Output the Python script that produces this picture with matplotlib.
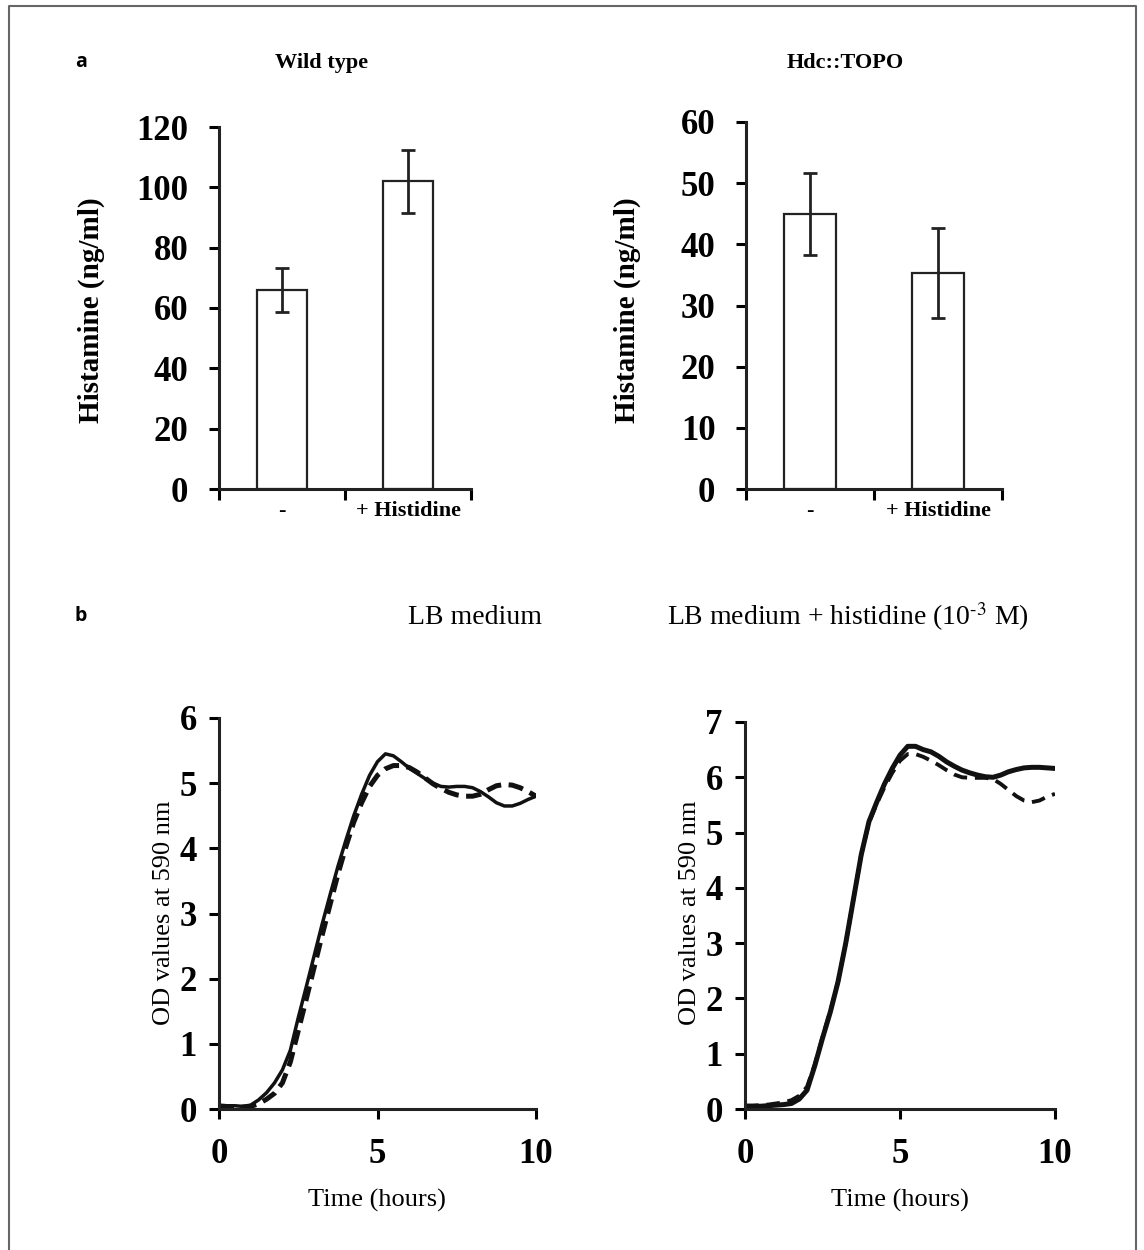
import numpy as np
import matplotlib
matplotlib.use("Agg")
import matplotlib.pyplot as plt
from matplotlib.lines import Line2D

plt.rcParams['font.family'] = ['Liberation Serif', 'DejaVu Serif']
plt.rcParams['mathtext.fontset'] = 'stix'

W, H = 1144, 1250

# panel a: histamine production
groups = ['-', '+ Histidine']
wt_mean = [66, 102]
wt_err = [7.3, 10.4]
topo_mean = [45, 35.3]
topo_err = [6.7, 7.4]

# panel b: growth curves (OD at 590 nm), read every quarter hour
hours = np.arange(0, 10.01, 0.25)
lb_solid = [0.06, 0.05, 0.05, 0.04, 0.06, 0.14, 0.25, 0.4, 0.6, 0.9, 1.4, 1.87, 2.35, 2.83,
            3.28, 3.72, 4.12, 4.5, 4.83, 5.12, 5.33, 5.45, 5.42, 5.33, 5.23, 5.15, 5.07, 5.0,
            4.95, 4.94, 4.95, 4.95, 4.93, 4.87, 4.79, 4.7, 4.65, 4.65, 4.69, 4.75, 4.8]
lb_dashed = [0.04, 0.03, 0.03, 0.03, 0.04, 0.08, 0.15, 0.24, 0.4, 0.72, 1.2, 1.68, 2.17, 2.66,
             3.13, 3.6, 4.02, 4.4, 4.7, 4.95, 5.12, 5.22, 5.27, 5.27, 5.24, 5.17, 5.08, 4.99,
             4.92, 4.86, 4.82, 4.8, 4.8, 4.83, 4.9, 4.96, 4.98, 4.97, 4.93, 4.87, 4.8]
his_solid = [0.05, 0.05, 0.05, 0.06, 0.07, 0.08, 0.1, 0.18, 0.34, 0.78, 1.28, 1.75, 2.3, 3.0,
             3.8, 4.6, 5.2, 5.55, 5.88, 6.16, 6.4, 6.56, 6.56, 6.5, 6.46, 6.38, 6.28, 6.2,
             6.13, 6.08, 6.04, 6.01, 6.0, 6.04, 6.1, 6.14, 6.17, 6.18, 6.18, 6.17, 6.16]
his_dashed = [0.06, 0.06, 0.07, 0.08, 0.1, 0.12, 0.16, 0.24, 0.4, 0.8, 1.3, 1.77, 2.3, 3.0,
              3.8, 4.6, 5.18, 5.52, 5.82, 6.08, 6.3, 6.42, 6.42, 6.37, 6.3, 6.22, 6.13, 6.05,
              6.0, 5.99, 5.99, 5.99, 5.97, 5.88, 5.77, 5.66, 5.58, 5.55, 5.58, 5.65, 5.7]


def rect(l, t, r, b):
    return [l / W, 1 - b / H, (r - l) / W, (b - t) / H]


def ftext(x, y, s, **kw):
    fig.text(x / W, 1 - y / H, s, ha='center', va='center', **kw)


def style_axes(ax):
    for side in ['top', 'right']:
        ax.spines[side].set_visible(False)
    for side in ['left', 'bottom']:
        ax.spines[side].set_linewidth(2.2)
        ax.spines[side].set_color('#222222')


def bar_panel(ax, means, errs, ymax, step):
    style_axes(ax)
    x = np.arange(len(means))
    ax.bar(x, means, width=0.40, color='white', edgecolor='#222222', linewidth=1.6)
    ax.errorbar(x, means, yerr=errs, fmt='none', ecolor='#222222', elinewidth=2,
                capsize=5, capthick=2)
    ax.set_xlim(-0.5, 1.5)
    ax.set_ylim(0, ymax)
    ax.set_yticks(np.arange(0, ymax + 1, step))
    ax.set_xticks(x)
    ax.set_xticklabels(groups, fontsize=16, fontweight='bold')
    ax.set_xticks([-0.5, 0.5, 1.5], minor=True)
    ax.tick_params(axis='x', which='major', length=0, pad=9)
    ax.tick_params(axis='x', which='minor', length=8, width=2.2, direction='out')
    ax.tick_params(axis='y', length=7, width=2.2, direction='out', pad=15,
                   labelsize=25)
    for lab in ax.get_yticklabels():
        lab.set_fontweight('bold')


def growth_panel(ax, solid, dashed, ymax, lw_solid, lw_dash, dash):
    style_axes(ax)
    ax.plot(hours, solid, color='#111111', lw=lw_solid, solid_joinstyle='round')
    ax.plot(hours, dashed, color='#111111', lw=lw_dash, dashes=dash,
            dash_joinstyle='round')
    ax.set_xlim(0, 10)
    ax.set_ylim(0, ymax)
    ax.set_xticks([0, 5, 10])
    ax.set_yticks(range(0, ymax + 1))
    ax.tick_params(axis='both', length=7, width=2.2, direction='out', labelsize=25)
    ax.tick_params(axis='x', pad=14)
    ax.tick_params(axis='y', pad=9)
    for lab in ax.get_xticklabels() + ax.get_yticklabels():
        lab.set_fontweight('bold')


fig = plt.figure(figsize=(W / 100, H / 100), dpi=100)

ax1 = fig.add_axes(rect(219, 127, 471, 489))
bar_panel(ax1, wt_mean, wt_err, 120, 20)
ax2 = fig.add_axes(rect(746, 122, 1002, 489))
bar_panel(ax2, topo_mean, topo_err, 60, 10)

ax3 = fig.add_axes(rect(219, 718, 536, 1109))
growth_panel(ax3, lb_solid, lb_dashed, 6, 2.5, 3.6, (3.0, 1.5))
ax4 = fig.add_axes(rect(745, 722, 1055, 1109))
growth_panel(ax4, his_solid, his_dashed, 7, 3.6, 2.8, (3.5, 2.0))

# panel letters and titles
ftext(81, 62, 'a', family='Open Sans', fontweight='bold', fontsize=14)
ftext(81, 616, 'b', family='Open Sans', fontweight='bold', fontsize=14)
ftext(322, 63, 'Wild type', fontsize=16, fontweight='bold')
ftext(845, 63, 'Hdc::TOPO', fontsize=16, fontweight='bold')
ftext(475, 617, 'LB medium', fontsize=20)
ftext(848, 617, r'LB medium + histidine (10$^{\text{-3}}$ M)', fontsize=20)

# axis labels
ftext(91, 310, 'Histamine (ng/ml)', rotation=90, fontsize=21, fontweight='bold')
ftext(627, 310, 'Histamine (ng/ml)', rotation=90, fontsize=21, fontweight='bold')
ftext(164, 913, 'OD values at 590 nm', rotation=90, fontsize=19)
ftext(690, 913, 'OD values at 590 nm', rotation=90, fontsize=19)
ftext(377, 1200, 'Time (hours)', fontsize=19)
ftext(900, 1200, 'Time (hours)', fontsize=19)

# frame around the figure (open at the bottom)
fig.add_artist(Line2D([9 / W, 9 / W, 1136 / W, 1136 / W], [0, 1 - 6 / H, 1 - 6 / H, 0],
                      transform=fig.transFigure, color='#666666', lw=1.5))

fig.savefig('out.png', dpi=100, facecolor='white')
